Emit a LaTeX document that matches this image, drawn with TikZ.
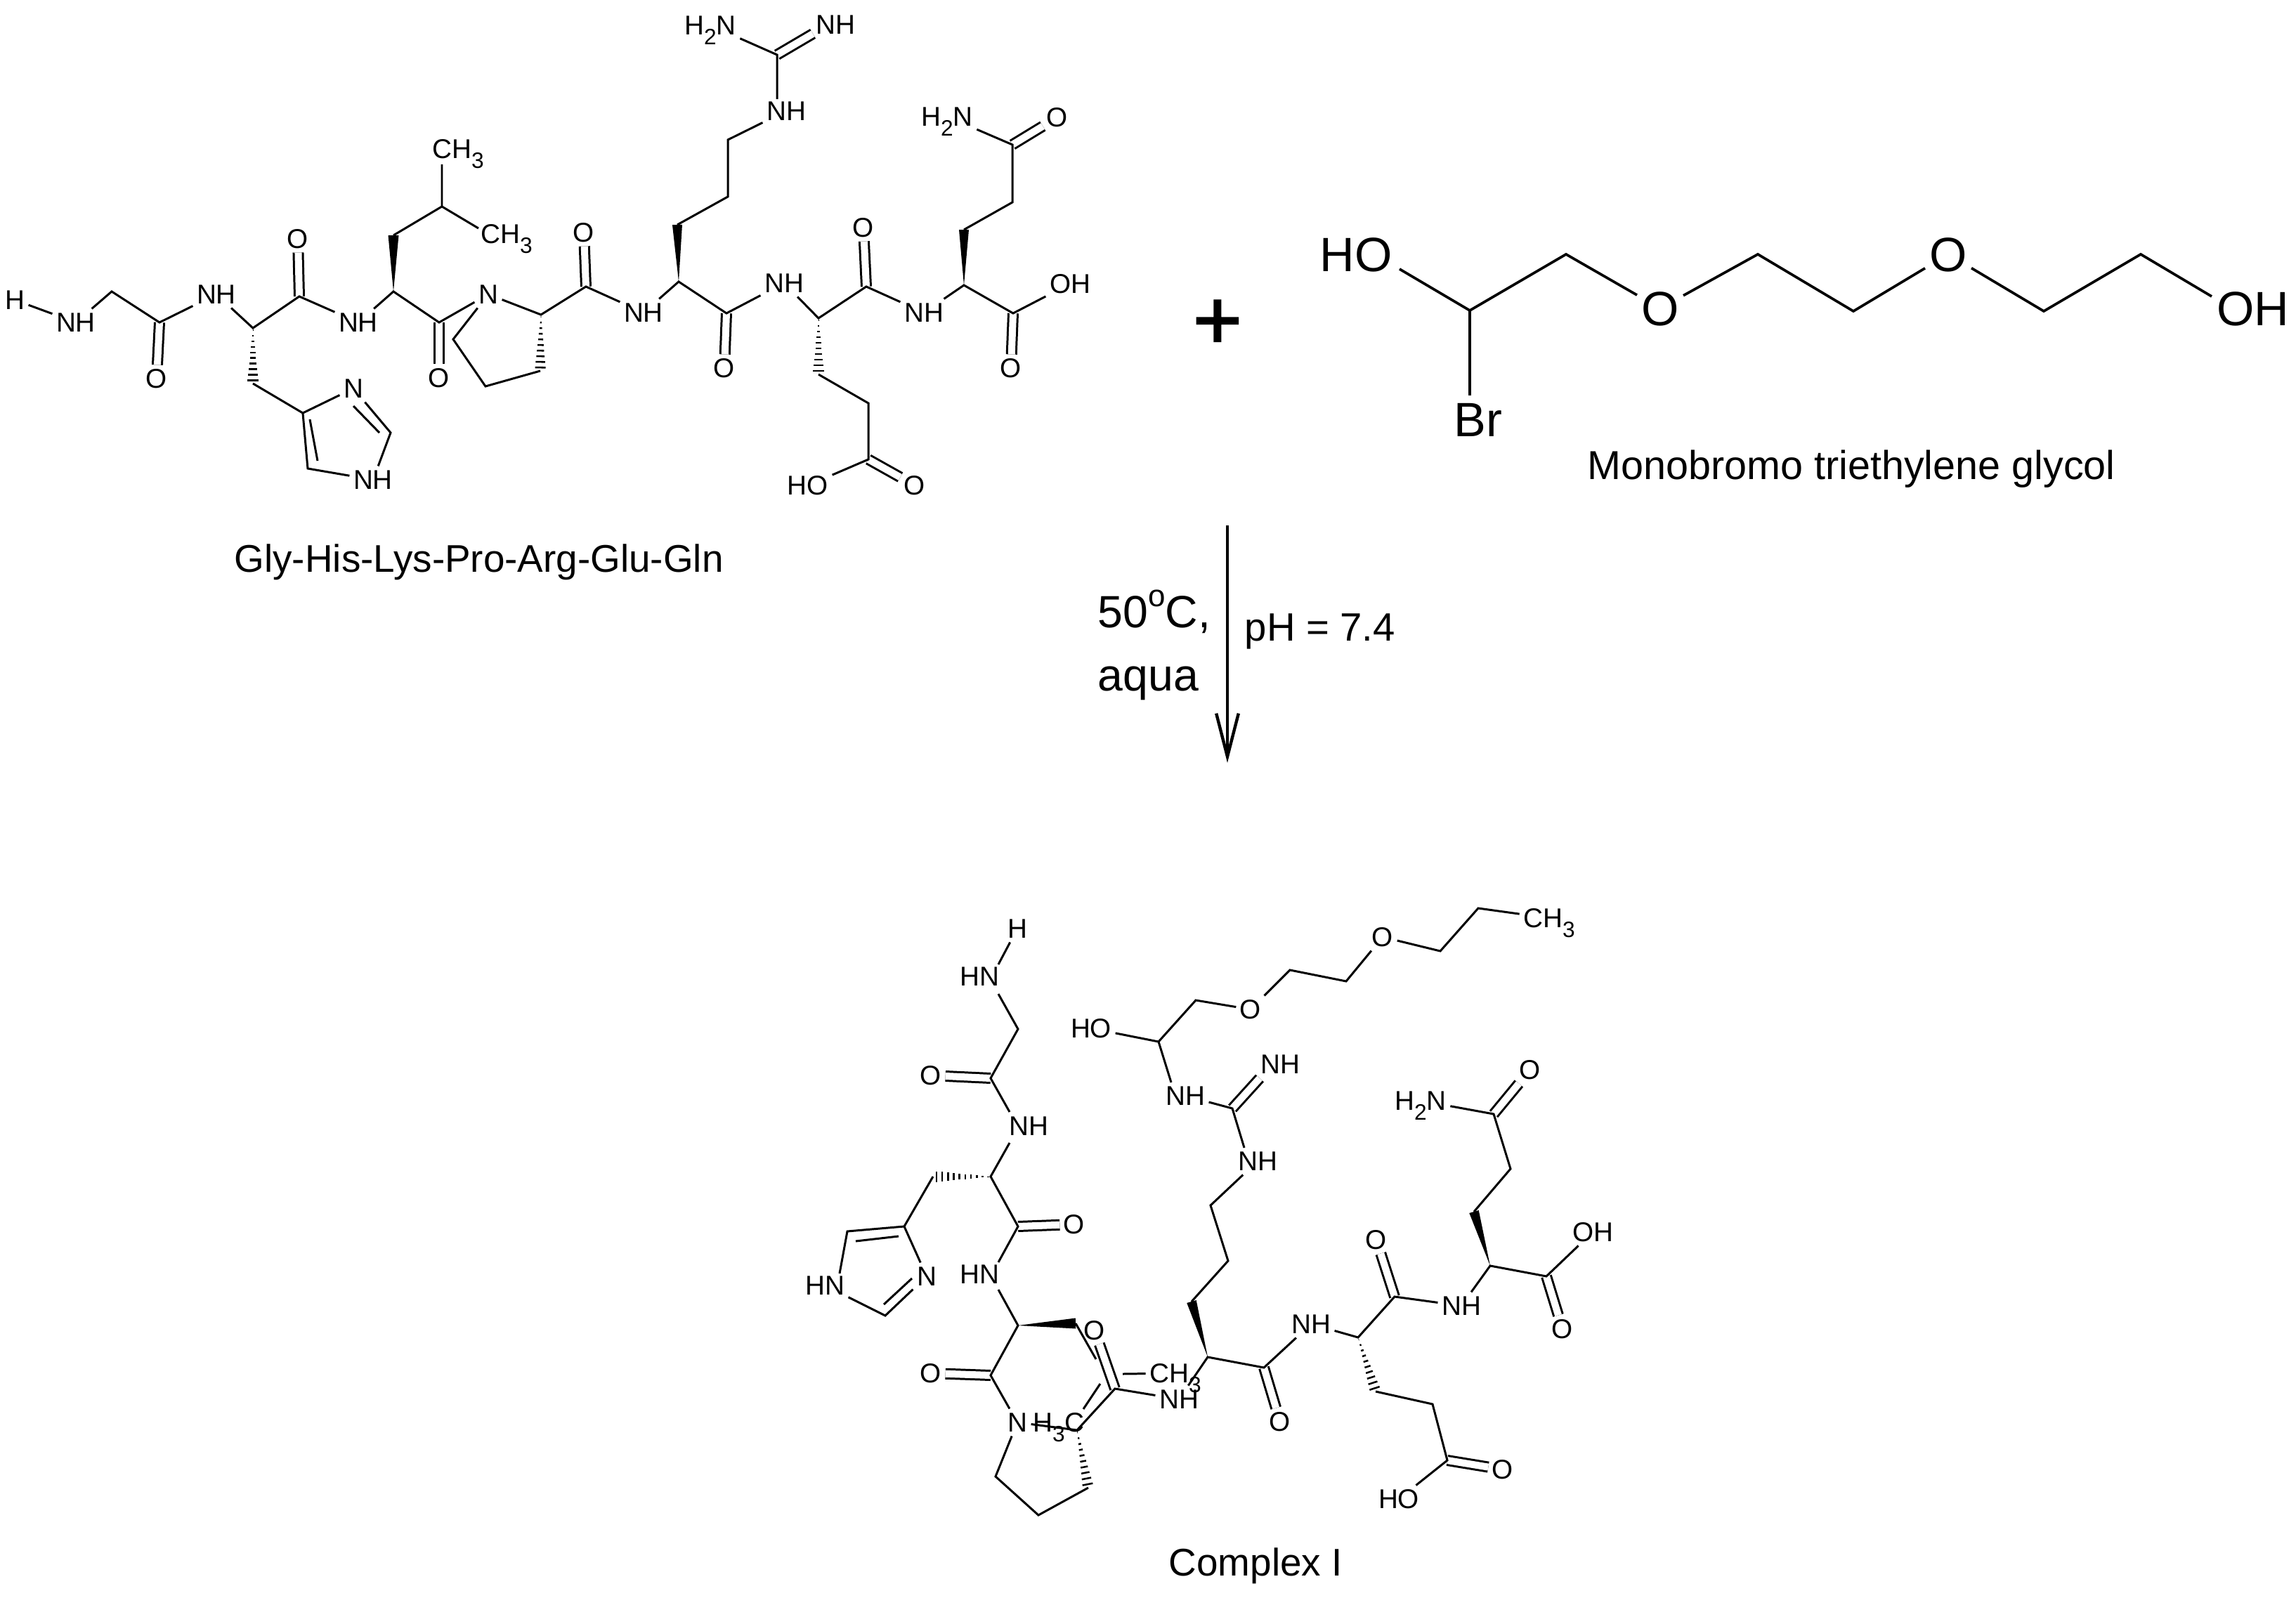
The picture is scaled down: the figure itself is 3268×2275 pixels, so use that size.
\documentclass[tikz,border=0pt]{standalone}
\usepackage{fontspec}
\setmainfont{Liberation Sans}
\newfontfamily\plusfont[FakeBold=2]{Liberation Sans}
\usetikzlibrary{calc,arrows.meta}
\newcommand{\sbs}[1]{\raisebox{-.35em}{\fontsize{9}{9}\selectfont #1}}
\newcommand{\wdg}[3]{\fill ($(#2)!#3!90:(#1)$) -- ($(#2)!#3!-90:(#1)$) -- (#1) -- cycle;}
\newcommand{\hsh}[3]{\foreach \t in {0.04,0.14,...,0.98}{%
  \coordinate (hh) at ($(#1)!\t!(#2)$);
  \pgfmathsetlengthmacro{\hw}{\t*#3}
  \draw[hashl] ($(hh)!\hw!90:(#2)$) -- ($(hh)!\hw!-90:(#2)$);}}
\tikzset{
  atom/.style={font=\fontsize{11}{13}\selectfont, inner sep=1.4pt, text height=7.9pt, text depth=0pt},
  gatom/.style={font=\fontsize{19.5}{23}\selectfont, inner sep=1.6pt, text height=14pt, text depth=0pt},
  bond/.style={line width=.85pt, black},
  gbond/.style={line width=1.05pt, black},
  dbond/.style={line width=.85pt, black, double, double distance between line centers=3.7pt},
  hashl/.style={line width=.72pt, black},
  caption/.style={font=\fontsize{15.6}{18}\selectfont, anchor=base west, inner sep=0pt},
  cond/.style={font=\fontsize{18.3}{22}\selectfont, anchor=base west, inner sep=0pt},
}
\begin{document}
\begin{tikzpicture}[x=0.01cm,y=-0.01cm]
\useasboundingbox[fill=white] (0,0) rectangle (3268,2275);
% ---------- top peptide: labels
\node[atom] (tH) at (21,427) {H};
\node[atom] (tn1) at (108,459) {NH};
\node[atom] (to1) at (223,539) {O};
\node[atom] (tn2) at (308,419) {NH};
\node[atom] (to2) at (424,340) {O};
\node[atom] (tn3) at (510,459) {NH};
\node[atom] (tin1) at (503,553) {N};
\node[atom] (tin2) at (531,683) {NH};
\node[atom] (tm1) at (652,212) {CH\sbs{3}};
\node[atom] (tm2) at (721,333) {CH\sbs{3}};
\node[atom] (to3) at (625,538) {O};
\node[atom] (tnp) at (695,419) {N};
\node[atom] (to4) at (831,331) {O};
\node[atom] (tn4) at (916,445) {NH};
\node[atom] (to5) at (1031,524) {O};
\node[atom] (tn5) at (1116,403) {NH};
\node[atom] (tn6) at (1119,158) {NH};
\node[atom] (tn7) at (1011,36) {H\sbs{2}N};
\node[atom] (tn8) at (1189,35) {NH};
\node[atom] (tho) at (1150,691) {HO};
\node[atom] (to6) at (1302,691) {O};
\node[atom] (to7) at (1229,324) {O};
\node[atom] (tn9) at (1315,445) {NH};
\node[atom] (tn10) at (1348,166) {H\sbs{2}N};
\node[atom] (to8) at (1505,167) {O};
\node[atom] (toh) at (1523,404) {OH};
\node[atom] (to9) at (1439,524) {O};
% coordinates
\coordinate (tc1) at (159,415);
\coordinate (tc2) at (227,459);
\coordinate (tca1) at (360,467);
\coordinate (tcb1) at (360,546);
\coordinate (tim1) at (431,588);
\coordinate (tim2) at (556,616);
\coordinate (tim3) at (438,667);
\coordinate (ti1a) at (503,578);
\coordinate (ti1b) at (540,616);
\coordinate (ti2a) at (441,597);
\coordinate (ti2b) at (452,656);
\coordinate (tc3) at (426,422);
\coordinate (tca2) at (560,415);
\coordinate (tcb2) at (560,335);
\coordinate (tcg) at (629,294);
\coordinate (tm1e) at (629,234);
\coordinate (tm2e) at (681,325);
\coordinate (tc4) at (625,459);
\coordinate (tpa) at (770,448);
\coordinate (tp1) at (645,483);
\coordinate (tp2) at (691,550);
\coordinate (tp3) at (769,528);
\coordinate (tc5) at (834,408);
\coordinate (tca3) at (966,401);
\coordinate (tcb3) at (964,320);
\coordinate (tcc3) at (1036,280);
\coordinate (tcd3) at (1036,199);
\coordinate (tgu) at (1106,78);
\coordinate (tgue) at (1157,48);
\coordinate (tgub) at (1106,141);
\coordinate (tc6) at (1034,446);
\coordinate (tca4) at (1165,453);
\coordinate (tcb4) at (1165,533);
\coordinate (tcc4) at (1236,574);
\coordinate (tcd4) at (1236,654);
\coordinate (tc7) at (1233,408);
\coordinate (tca5) at (1372,406);
\coordinate (tcb5) at (1372,327);
\coordinate (tcc5) at (1441,288);
\coordinate (tcd5) at (1441,206);
\coordinate (tc8) at (1442,446);
% double bonds first
\draw[dbond] (tc2) -- (to1);
\draw[dbond] (tc3) -- (to2);
\draw[dbond] (tc4) -- (to3);
\draw[dbond] (tc5) -- (to4);
\draw[dbond] (tc6) -- (to5);
\draw[dbond] (tc7) -- (to7);
\draw[dbond] (tc8) -- (to9);
\draw[dbond] (tcd4) -- (to6);
\draw[dbond] (tcd5) -- (to8);
\draw[dbond] (tgu) -- (tgue);
% single bonds
\draw[bond] (tH) -- (tn1) -- (tc1) -- (tc2) -- (tn2) -- (tca1) -- (tc3) -- (tn3) -- (tca2) -- (tc4) -- (tnp);
\draw[bond] (tcb1) -- (tim1) -- (tin1);
\draw[bond] (tin1) -- (tim2) -- (tin2) -- (tim3) -- (tim1);
\draw[bond] (ti1a) -- (ti1b);
\draw[bond] (ti2a) -- (ti2b);
\draw[bond] (tcb2) -- (tcg) -- (tm1e);
\draw[bond] (tcg) -- (tm2e);
\draw[bond] (tnp) -- (tpa) -- (tc5) -- (tn4) -- (tca3) -- (tc6) -- (tn5) -- (tca4) -- (tc7) -- (tn9) -- (tca5) -- (tc8) -- (toh);
\draw[bond] (tnp) -- (tp1) -- (tp2) -- (tp3);
\draw[bond] (tcb3) -- (tcc3) -- (tcd3) -- (tn6);
\draw[bond] (tgub) -- (tgu) -- (tn7);
\draw[bond] (tcb4) -- (tcc4) -- (tcd4) -- (tho);
\draw[bond] (tcb5) -- (tcc5) -- (tcd5) -- (tn10);
\wdg{tca2}{tcb2}{7.5*0.01cm}
\wdg{tca3}{tcb3}{7*0.01cm}
\wdg{tca5}{tcb5}{7*0.01cm}
\hsh{tca1}{tcb1}{8*0.01cm}
\hsh{tpa}{tp3}{8*0.01cm}
\hsh{tca4}{tcb4}{8*0.01cm}
% ---------- plus and glycol
\node[font=\plusfont\fontsize{34}{38}\selectfont, inner sep=0pt] (plus) at (1733,462) {+};
\node[gatom] (gho) at (1930,362) {HO};
\node[gatom] (go1) at (2363,439) {O};
\node[gatom] (go2) at (2773,362) {O};
\node[gatom] (goh) at (3207,439) {OH};
\node[gatom] (gbr) at (2104,597) {Br};
\coordinate (ghe) at (1992,383);
\coordinate (gc1) at (2092,442);
\coordinate (gc2) at (2229,362);
\coordinate (gc3) at (2502,362);
\coordinate (gc4) at (2638,443);
\coordinate (gc5) at (2909,443);
\coordinate (gc6) at (3047,362);
\coordinate (goe) at (3148,422);
\coordinate (gbe) at (2092,563);
\draw[gbond] (ghe) -- (gc1) -- (gc2) -- (go1) -- (gc3) -- (gc4) -- (go2) -- (gc5) -- (gc6) -- (goe);
\draw[gbond] (gc1) -- (gbe);
\node[caption] (cap1) at (333,814) {Gly-His-Lys-Pro-Arg-Glu-Gln};
\node[caption, font=\fontsize{16.35}{19}\selectfont] (cap2) at (2259,682) {Monobromo triethylene glycol};
% ---------- arrow
\coordinate (arA) at (1747,748);
\coordinate (arB) at (1747,1086);
\draw[line width=1.25pt, black, -{Straight Barb[length=17.5pt,width=9pt]}] (arA) -- (arB);
\node[cond] (t50) at (1562,893) {50\raisebox{8.5pt}{\fontsize{12.5}{12.5}\selectfont o}C,};
\node[cond] (taq) at (1562,983) {aqua};
\node[cond, font=\fontsize{16}{19}\selectfont] (tph) at (1771,912) {pH = 7.4};
% ---------- bottom: labels
\node[atom] (bH) at (1448,1322) {H};
\node[atom] (bn1) at (1394,1390) {HN};
\node[atom] (bo1) at (1325,1531) {O};
\node[atom] (bn2) at (1464,1603) {NH};
\node[atom] (bo2) at (1529,1743) {O};
\node[atom] (bin1) at (1174,1830) {HN};
\node[atom] (bin2) at (1319,1817) {N};
\node[atom] (bn3) at (1394,1814) {HN};
\node[atom] (bo3) at (1325,1955) {O};
\node[atom] (bnp) at (1448,2025) {N};
\node[atom] (bo4) at (1558,1894) {O};
\node[atom] (bm1) at (1673,1955) {CH\sbs{3}};
\node[atom] (bm2) at (1507,2025) {H\sbs{3}C};
\node[atom] (bn4) at (1678,1992) {NH};
\node[atom] (bho1) at (1553,1464) {HO};
\node[atom] (boe1) at (1780,1437) {O};
\node[atom] (bn5) at (1687,1560) {NH};
\node[atom] (bn6) at (1822,1515) {NH};
\node[atom] (bn7) at (1790,1653) {NH};
\node[atom] (boe2) at (1968,1334) {O};
\node[atom] (bm3) at (2205,1307) {CH\sbs{3}};
\node[atom] (bo5) at (1822,2024) {O};
\node[atom] (bn8) at (1866,1885) {NH};
\node[atom] (bo6) at (1959,1765) {O};
\node[atom] (bn9) at (2080,1859) {NH};
\node[atom] (bho2) at (1991,2134) {HO};
\node[atom] (bo7) at (2139,2092) {O};
\node[atom] (bn10) at (2022,1567) {H\sbs{2}N};
\node[atom] (bo8) at (2178,1523) {O};
\node[atom] (boh) at (2267,1754) {OH};
\node[atom] (bo9) at (2224,1892) {O};
% coordinates
\coordinate (bn1a) at (1421,1373);
\coordinate (bn1b) at (1421,1415);
\coordinate (bn2a) at (1437,1583);
\coordinate (bn2b) at (1437,1627);
\coordinate (bn3a) at (1421,1797);
\coordinate (bn3b) at (1421,1836);
\coordinate (bin1a) at (1195,1813);
\coordinate (bc1) at (1449,1465);
\coordinate (bc2) at (1410,1535);
\coordinate (bca1) at (1410,1675);
\coordinate (bcb1) at (1328,1675);
\coordinate (bim1) at (1287,1746);
\coordinate (bc3) at (1449,1746);
\coordinate (bim2) at (1206,1753);
\coordinate (bim3) at (1260,1873);
\coordinate (bi1a) at (1218,1767);
\coordinate (bi1b) at (1279,1760);
\coordinate (bi2a) at (1258,1857);
\coordinate (bi2b) at (1298,1820);
\coordinate (bca2) at (1449,1887);
\coordinate (bcb2) at (1531,1884);
\coordinate (bl1) at (1560,1935);
\coordinate (bl2) at (1598,1956);
\coordinate (bl3) at (1566,1970);
\coordinate (bl4) at (1542,2006);
\coordinate (bc4) at (1410,1958);
\coordinate (bc5) at (1587,1977);
\coordinate (bpa) at (1533,2036);
\coordinate (bp1) at (1417,2102);
\coordinate (bp2) at (1478,2157);
\coordinate (bp3) at (1549,2118);
\coordinate (bca3) at (1719,1932);
\coordinate (bcb3) at (1696,1853);
\coordinate (bcc3) at (1748,1795);
\coordinate (bcd3) at (1723,1716);
\coordinate (bc6) at (1799,1947);
\coordinate (bca4) at (1933,1904);
\coordinate (bcb4) at (1958,1981);
\coordinate (bcc4) at (2039,1999);
\coordinate (bcd4) at (2060,2079);
\coordinate (bc7) at (1985,1846);
\coordinate (bca5) at (2121,1802);
\coordinate (bcb5) at (2098,1725);
\coordinate (bcc5) at (2150,1664);
\coordinate (bcd5) at (2126,1586);
\coordinate (bc8) at (2201,1817);
\coordinate (bgu) at (1754,1578);
\coordinate (bgue) at (1793,1535);
\coordinate (bgub) at (1771,1634);
\coordinate (bhc1) at (1649,1483);
\coordinate (bhc2) at (1702,1424);
\coordinate (bhne) at (1667,1541);
\coordinate (be1) at (1836,1381);
\coordinate (be2) at (1916,1397);
\coordinate (be3) at (2050,1354);
\coordinate (be4) at (2104,1293);
% double bonds
\draw[dbond] (bc2) -- (bo1);
\draw[dbond] (bc3) -- (bo2);
\draw[dbond] (bc4) -- (bo3);
\draw[dbond] (bc5) -- (bo4);
\draw[dbond] (bc6) -- (bo5);
\draw[dbond] (bc7) -- (bo6);
\draw[dbond] (bcd4) -- (bo7);
\draw[dbond] (bcd5) -- (bo8);
\draw[dbond] (bc8) -- (bo9);
\draw[dbond] (bgu) -- (bgue);
% single bonds
\draw[bond] (bH) -- (bn1a);
\draw[bond] (bn1b) -- (bc1) -- (bc2) -- (bn2a);
\draw[bond] (bn2b) -- (bca1) -- (bc3) -- (bn3a);
\draw[bond] (bn3b) -- (bca2) -- (bc4) -- (bnp);
\draw[bond] (bcb1) -- (bim1) -- (bim2) -- (bin1a);
\draw[bond] (bim1) -- (bin2) -- (bim3) -- (bin1);
\draw[bond] (bi1a) -- (bi1b);
\draw[bond] (bi2a) -- (bi2b);
\draw[bond] (bcb2) -- (bl1);
\draw[bond] (bl2) -- (bm1);
\draw[bond] (bl3) -- (bl4);
\draw[bond] (bnp) -- (bpa) -- (bc5) -- (bn4) -- (bca3) -- (bc6) -- (bn8) -- (bca4) -- (bc7) -- (bn9) -- (bca5) -- (bc8) -- (boh);
\draw[bond] (bnp) -- (bp1) -- (bp2) -- (bp3);
\draw[bond] (bcb3) -- (bcc3) -- (bcd3) -- (bn7);
\draw[bond] (bgub) -- (bgu) -- (bn5);
\draw[bond] (bho1) -- (bhc1) -- (bhc2) -- (boe1) -- (be1) -- (be2) -- (boe2) -- (be3) -- (be4) -- (bm3);
\draw[bond] (bhc1) -- (bhne);
\draw[bond] (bcb4) -- (bcc4) -- (bcd4) -- (bho2);
\draw[bond] (bcb5) -- (bcc5) -- (bcd5) -- (bn10);
\wdg{bca2}{bcb2}{7.5*0.01cm}
\wdg{bca3}{bcb3}{7*0.01cm}
\wdg{bca5}{bcb5}{7*0.01cm}
\hsh{bca1}{bcb1}{8*0.01cm}
\hsh{bpa}{bp3}{8*0.01cm}
\hsh{bca4}{bcb4}{8*0.01cm}
\node[caption] (cap3) at (1663,2243) {Complex I};
\end{tikzpicture}
\end{document}
